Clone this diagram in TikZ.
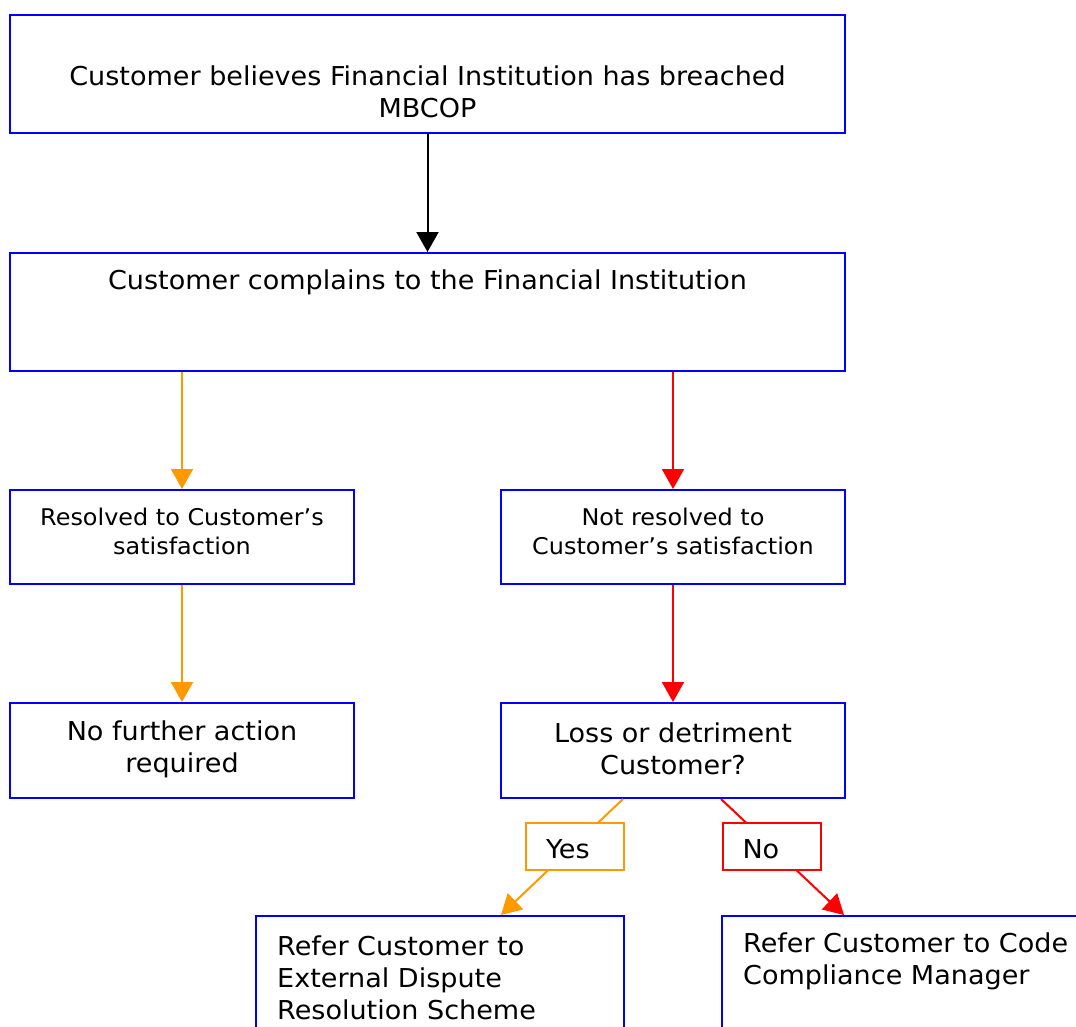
\documentclass[tikz,border=0pt]{standalone}
\usepackage{fontspec}
\setmainfont{DejaVu Sans}[FakeStretch=1.04]
\usetikzlibrary{arrows.meta,positioning,calc}
\definecolor{boxblue}{HTML}{0000FF}
\definecolor{okorange}{HTML}{FF9900}
\definecolor{nored}{HTML}{FF0000}
\tikzset{
  box/.style={draw=boxblue,line width=2pt,inner sep=0pt},
  txt/.style={inner sep=0pt,align=center,font=\fontsize{26}{32}\selectfont},
  smalltxt/.style={inner sep=0pt,align=center,font=\fontsize{23}{29}\selectfont},
  flow/.style={-{Triangle[length=20pt,width=22pt]},line width=2pt},
  okflow/.style={flow,okorange},
  noflow/.style={flow,nored},
  answer/.style={draw=#1,fill=white,line width=2pt,minimum width=98pt,minimum height=47pt,
    text width=58pt,text height=24pt,text depth=0pt,align=left,inner xsep=20pt,
    font=\fontsize{26}{32}\selectfont}
}
\begin{document}
\begin{tikzpicture}[x=1pt,y=-1pt]
\useasboundingbox (0,0) rectangle (1076,1026);
% boxes
\node[box,minimum width=835pt,minimum height=118pt] (breach) at (427.5,74) {};
\node[box,minimum width=835pt,minimum height=118pt] (complain) at (427.5,312) {};
\node[box,minimum width=344pt,minimum height=94pt] (resolved) at (182,537) {};
\node[box,minimum width=344pt,minimum height=94pt] (notresolved) at (673,537) {};
\node[box,minimum width=344pt,minimum height=95pt] (noaction) at (182,750.5) {};
\node[box,minimum width=344pt,minimum height=95pt] (loss) at (673,750.5) {};
\node[box,minimum width=368pt,minimum height=144pt] (edr) at (440,988) {};
\node[box,minimum width=378pt,minimum height=144pt] (ccm) at (911,988) {};
% texts
\node[txt] (breachtxt) at (427.5,92) {Customer believes Financial Institution has breached\\MBCOP};
\node[txt] (complaintxt) at (427.5,282) {Customer complains to the Financial Institution};
\node[smalltxt] (resolvedtxt) at (182,531) {Resolved to Customer’s\\satisfaction};
\node[smalltxt] (notresolvedtxt) at (673,531) {Not resolved to\\Customer’s satisfaction};
\node[txt] (noactiontxt) at (182,749) {No further action\\required};
\node[txt] (losstxt) at (673,749) {Loss or detriment\\Customer?};
\node[txt,align=left,anchor=west] (edrtxt) at (277,977.5) {Refer Customer to\\External Dispute\\Resolution Scheme};
\node[txt,align=left,anchor=west] (ccmtxt) at (743,961.5) {Refer Customer to Code\\Compliance Manager};
% arrows
\draw[flow] (breach) -- (complain);
\draw[okflow] (complain.south -| resolved) -- (resolved);
\draw[noflow] (complain.south -| notresolved) -- (notresolved);
\draw[okflow] (resolved) -- (noaction);
\draw[noflow] (notresolved) -- (loss);
\draw[okflow] ($(loss.south west)+(123,0)$) -- ($(edr.north west)+(246,0)$);
\draw[noflow] ($(loss.south west)+(221,0)$) -- ($(ccm.north west)+(123,0)$);
\node[answer=okorange] (yes) at (575,846) {Yes};
\node[answer=nored] (no) at (771.5,846) {No};
\end{tikzpicture}
\end{document}
